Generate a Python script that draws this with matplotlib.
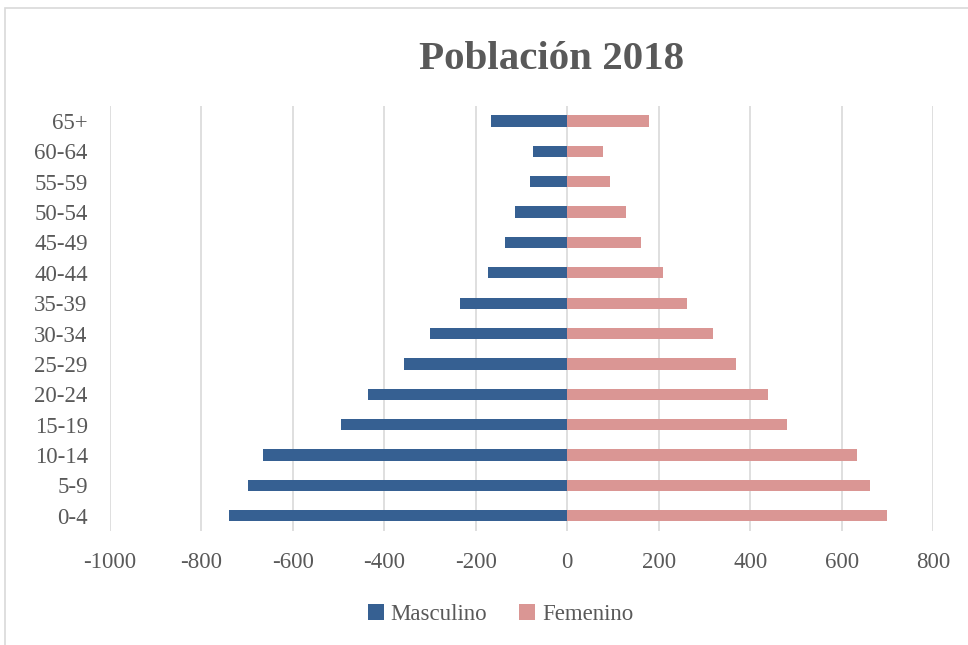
import numpy as np

from matplotlib import pyplot as plt
from matplotlib.patches import Rectangle


AGE_GROUPS = [
    "0-4", "5-9", "10-14", "15-19", "20-24", "25-29", "30-34",
    "35-39", "40-44", "45-49", "50-54", "55-59", "60-64", "65+",
]
MASCULINO = [-740, -699, -665, -494, -436, -356, -301, -234, -174, -136, -114, -82, -74, -166]
FEMENINO = [700, 663, 633, 480, 438, 368, 318, 262, 210, 161, 129, 93, 79, 178]
X_TICKS = [-1000, -800, -600, -400, -200, 0, 200, 400, 600, 800]

BLUE = "#366092"
PINK = "#DA9694"
TEXT_GREY = "#595959"
GRID_GREY = "#D9D9D9"

plt.rcParams["font.family"] = ["Liberation Serif", "DejaVu Serif"]

fig = plt.figure(figsize=(9.68, 6.45), dpi=100)
ax = fig.add_axes([0.1136, 0.1767, 0.8504, 0.6593])

y = np.arange(len(AGE_GROUPS))
ax.barh(y, MASCULINO, height=0.37, color=BLUE, label="Masculino", zorder=3)
ax.barh(y, FEMENINO, height=0.37, color=PINK, label="Femenino", zorder=3)

ax.set_ylim(-0.5, len(AGE_GROUPS) - 0.5)
ax.set_xlim(-1000, 800)
ax.set_yticks(y, AGE_GROUPS)
ax.set_xticks(X_TICKS, [str(t) for t in X_TICKS])
ax.tick_params(axis="both", length=0, labelsize=16.5, colors=TEXT_GREY)
ax.tick_params(axis="y", pad=16)
ax.tick_params(axis="x", pad=15)
ax.xaxis.grid(True, color=GRID_GREY, linewidth=1.2, zorder=0)
for spine in ax.spines.values():
    spine.set_visible(False)

fig.text(0.570, 0.907, "Población 2018", ha="center", va="center",
         fontsize=29.5, fontweight="bold", color=TEXT_GREY)

fig.legend(loc="center", bbox_to_anchor=(0.517, 0.048), ncol=2, frameon=False,
           fontsize=16.5, labelcolor=TEXT_GREY, handlelength=0.7, handleheight=0.7,
           handletextpad=0.3, columnspacing=1.4)

# chart area border
fig.patches.append(Rectangle((0.005, -0.01), 1.2, 0.997, transform=fig.transFigure,
                             fill=False, edgecolor=GRID_GREY, linewidth=1.2))

fig.savefig("out.png", dpi=100)
